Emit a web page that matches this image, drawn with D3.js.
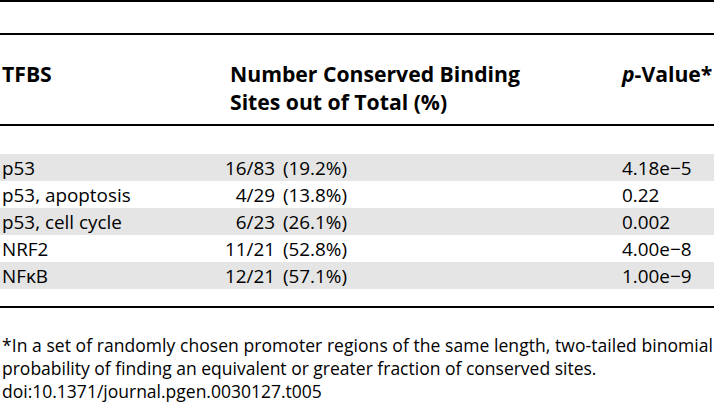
<!DOCTYPE html>
<html>
<head>
<meta charset="utf-8">
<script src="https://cdn.jsdelivr.net/npm/d3@7"></script>
<style>
  html, body { margin: 0; padding: 0; background: #fff; }
  svg { display: block; }
  text { font-family: "Open Sans", "Noto Sans", sans-serif; fill: #000; }
</style>
</head>
<body>
<svg id="chart" width="714" height="407"></svg>
<script>
const headers = ["TFBS", "Number Conserved Binding|Sites out of Total (%)", "p-Value*"];
const tfbs = ["p53", "p53, apoptosis", "p53, cell cycle", "NRF2", "NF\u03BAB"];
const conserved = ["16/83 (19.2%)", "4/29 (13.8%)", "6/23 (26.1%)", "11/21 (52.8%)", "12/21 (57.1%)"];
const pValues = ["4.18e\u22125", "0.22", "0.002", "4.00e\u22128", "1.00e\u22129"];
const footnotes = [
  "*In a set of randomly chosen promoter regions of the same length, two-tailed binomial",
  "probability of finding an equivalent or greater fraction of conserved sites.",
  "doi:10.1371/journal.pgen.0030127.t005"
];

const W = 714;
const svg = d3.select("#chart");

// fit a font size so that a given string spans a given width
function fitSize(str, width, weight) {
  const t = svg.append("text").attr("font-size", 100).attr("font-weight", weight || "normal").text(str);
  const w = t.node().getComputedTextLength();
  t.remove();
  return 100 * width / w;
}
const hdrSize = fitSize("Number Conserved Binding", 290, "bold");
const bodySize = fitSize("p53, cell cycle", 120);
const fnSize = fitSize(footnotes[1], 595);

const rowY = d3.scaleBand().domain(d3.range(tfbs.length)).range([154, 289]).padding(0);

// banding
svg.selectAll("rect.band").data(d3.range(tfbs.length).filter(i => i % 2 === 0))
  .enter().append("rect")
  .attr("x", 0).attr("width", W)
  .attr("y", i => rowY(i)).attr("height", rowY.bandwidth())
  .attr("fill", "#e5e5e5");

// rules
const rules = [1, 34, 125, 307];
svg.selectAll("line.rule").data(rules).enter().append("line")
  .attr("x1", 0).attr("x2", W).attr("y1", d => d).attr("y2", d => d)
  .attr("stroke", "#000").attr("stroke-width", 2);

// headers
const hx = [2, 230, 622];
const hdr = svg.append("g").attr("font-weight", "bold").attr("font-size", hdrSize);
hdr.append("text").attr("x", hx[0]).attr("y", 82).text(headers[0]);
const h2 = headers[1].split("|");
hdr.append("text").attr("x", hx[1]).attr("y", 82).text(h2[0]);
hdr.append("text").attr("x", hx[1]).attr("y", 110).text(h2[1]);
const pv = hdr.append("text").attr("x", hx[2]).attr("y", 82);
pv.append("tspan").attr("font-style", "italic").text(headers[2].slice(0, 1));
pv.append("tspan").text(headers[2].slice(1));

// body
const body = svg.append("g").attr("font-size", bodySize);
body.selectAll("text.c1").data(tfbs).enter().append("text")
  .attr("x", 2).attr("y", (d, i) => rowY(i) + 21).text(d => d);
body.selectAll("text.c2").data(conserved).enter().append("text")
  .attr("x", 347).attr("text-anchor", "end").attr("y", (d, i) => rowY(i) + 21)
  .attr("word-spacing", 3)
  .text(d => d);
body.selectAll("text.c3").data(pValues).enter().append("text")
  .attr("x", 622).attr("y", (d, i) => rowY(i) + 21).text(d => d);

// footnotes
const fnY = [352, 375, 398];
const fn = svg.append("g").attr("font-size", fnSize);
fn.selectAll("text").data(footnotes).enter().append("text")
  .attr("x", 2).attr("y", (d, i) => fnY[i])
  .each(function(d, i) {
    const t = d3.select(this);
    t.text(d);
    if (i === 0) t.attr("textLength", 711).attr("lengthAdjust", "spacing");
  });
</script>
</body>
</html>
